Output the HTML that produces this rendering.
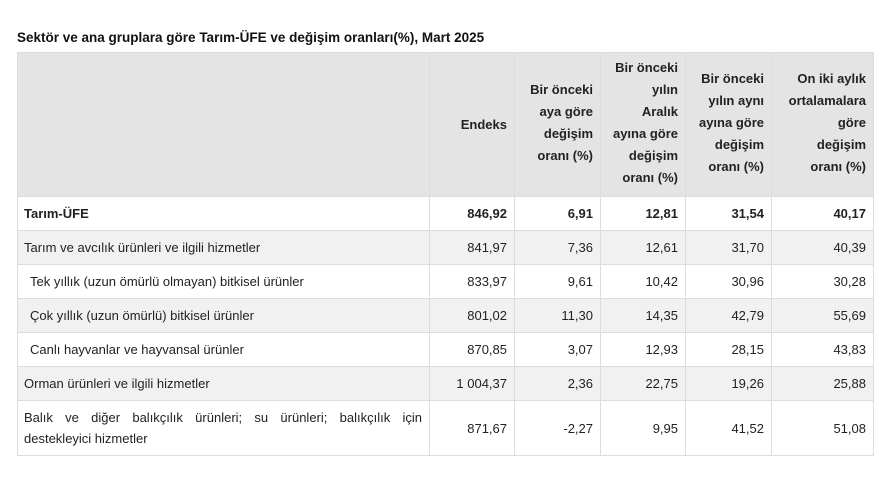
<!DOCTYPE html>
<html><head><meta charset="utf-8"><style>
body{margin:0;width:892px;height:502px;background:#fff;font-family:"Liberation Sans","DejaVu Sans",sans-serif;color:#222;overflow:hidden;position:relative}
.title{position:absolute;left:17px;top:30px;font-size:13.5px;font-weight:bold;color:#111}
table{position:absolute;left:17px;top:52px;border-collapse:collapse;table-layout:fixed;width:856px;font-size:13px}
td,th{border:1px solid #dcdcdc;padding:0 7px 0 6px;text-align:right;vertical-align:middle;overflow:hidden;white-space:nowrap}
th{background:#e4e4e4;font-weight:bold;height:143px;padding:0;font-size:13px}
th div{height:143px;box-sizing:border-box;display:flex;flex-direction:column;justify-content:flex-end;line-height:22px;padding-right:7px;text-align:right}
tr.r td{height:33px}
tr.g td{background:#f1f1f1}
td.l{text-align:left}
td.i{padding-left:12px}
tr.b td{font-weight:bold}
tr.last td{height:54px;line-height:21px}
</style></head><body>
<div class="title">Sektör ve ana gruplara göre Tarım-ÜFE ve değişim oranları(%), Mart 2025</div>
<table>
<colgroup><col style="width:412px"><col style="width:85px"><col style="width:86px"><col style="width:85px"><col style="width:86px"><col style="width:102px"></colgroup>
<tr><th><div></div></th>
<th><div style="justify-content:center">Endeks</div></th>
<th><div style="padding-bottom:29px">Bir önceki<br>aya göre<br>değişim<br>oranı (%)</div></th>
<th><div style="padding-bottom:7px">Bir önceki<br>yılın<br>Aralık<br>ayına göre<br>değişim<br>oranı (%)</div></th>
<th><div style="padding-bottom:18px">Bir önceki<br>yılın aynı<br>ayına göre<br>değişim<br>oranı (%)</div></th>
<th><div style="padding-bottom:18px">On iki aylık<br>ortalamalara<br>göre<br>değişim<br>oranı (%)</div></th></tr>
<tr class="r b"><td class="l">Tarım-ÜFE</td><td>846,92</td><td>6,91</td><td>12,81</td><td>31,54</td><td>40,17</td></tr>
<tr class="r g"><td class="l">Tarım ve avcılık ürünleri ve ilgili hizmetler</td><td>841,97</td><td>7,36</td><td>12,61</td><td>31,70</td><td>40,39</td></tr>
<tr class="r"><td class="l i">Tek yıllık (uzun ömürlü olmayan) bitkisel ürünler</td><td>833,97</td><td>9,61</td><td>10,42</td><td>30,96</td><td>30,28</td></tr>
<tr class="r g"><td class="l i">Çok yıllık (uzun ömürlü) bitkisel ürünler</td><td>801,02</td><td>11,30</td><td>14,35</td><td>42,79</td><td>55,69</td></tr>
<tr class="r"><td class="l i">Canlı hayvanlar ve hayvansal ürünler</td><td>870,85</td><td>3,07</td><td>12,93</td><td>28,15</td><td>43,83</td></tr>
<tr class="r g"><td class="l">Orman ürünleri ve ilgili hizmetler</td><td>1 004,37</td><td>2,36</td><td>22,75</td><td>19,26</td><td>25,88</td></tr>
<tr class="r last"><td class="l" style="white-space:normal;text-align:justify;text-align-last:left">Balık ve diğer balıkçılık ürünleri; su ürünleri; balıkçılık için destekleyici hizmetler</td><td>871,67</td><td>-2,27</td><td>9,95</td><td>41,52</td><td>51,08</td></tr>
</table>
</body></html>
